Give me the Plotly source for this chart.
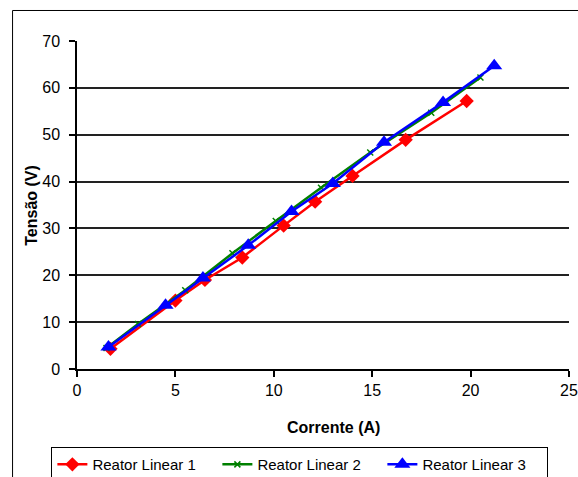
import plotly.graph_objects as go

x1 = [1.7, 5.0, 6.5, 8.4, 10.5, 12.1, 14.0, 16.7, 19.8]
y1 = [4.3, 14.6, 19.0, 23.8, 30.6, 35.7, 41.2, 48.9, 57.2]

x2 = [1.5, 3.1, 5.5, 7.9, 10.1, 12.4, 14.9, 18.0, 20.5]
y2 = [4.5, 9.6, 16.8, 24.7, 31.6, 38.7, 46.2, 54.7, 62.2]

x3 = [1.6, 4.5, 6.4, 8.7, 10.9, 13.0, 15.6, 18.6, 21.2]
y3 = [4.7, 13.6, 19.4, 26.4, 33.6, 39.6, 48.4, 56.9, 64.7]

names = ["Reator Linear 1", "Reator Linear 2", "Reator Linear 3"]
xticks = [0, 5, 10, 15, 20, 25]
yticks = [0, 10, 20, 30, 40, 50, 60, 70]

FONT = "Liberation Sans, Arial, sans-serif"

fig = go.Figure()
fig.add_trace(go.Scatter(x=x1, y=y1, name=names[0], mode="lines+markers",
                         line=dict(color="#FF0000", width=2.5),
                         marker=dict(symbol="diamond", size=11, color="#FF0000")))
fig.add_trace(go.Scatter(x=x2, y=y2, name=names[1], mode="lines+markers",
                         line=dict(color="#008000", width=2.5),
                         marker=dict(symbol="x-thin", size=6, color="#008000",
                                     line=dict(color="#008000", width=1.5))))
fig.add_trace(go.Scatter(x=x3, y=y3, name=names[2], mode="lines+markers",
                         line=dict(color="#0000FF", width=2.5),
                         marker=dict(symbol="triangle-up", size=14, color="#0000FF")))

fig.update_layout(
    width=578, height=477,
    margin=dict(l=76.5, r=8.5, t=40.5, b=108, autoexpand=False),
    paper_bgcolor="white", plot_bgcolor="white",
    font=dict(family=FONT, color="black", size=16),
    showlegend=True,
    legend=dict(orientation="h", xref="paper", x=0.453, xanchor="center",
                yref="container", y=0.026, yanchor="middle",
                bordercolor="black", borderwidth=1, bgcolor="white",
                font=dict(size=15, family=FONT),
                entrywidth=120, entrywidthmode="pixels"),
    xaxis=dict(range=[0, 25], tickvals=xticks, showgrid=False, zeroline=False,
               showline=True, linecolor="black", linewidth=1.5,
               ticks="outside", ticklen=6, tickcolor="black", tickwidth=1.5,
               tickfont=dict(size=16), fixedrange=True, automargin=False,
               ticklabeloverflow="allow"),
    yaxis=dict(range=[0, 70], tickvals=yticks, showgrid=True, gridcolor="#222222",
               gridwidth=1.5, zeroline=False,
               showline=True, linecolor="black", linewidth=1.5,
               ticks="outside", ticklen=6, tickcolor="black", tickwidth=1.5,
               tickfont=dict(size=16), ticklabelstandoff=6, fixedrange=True,
               automargin=False, ticklabeloverflow="allow"),
    annotations=[
        dict(text="<b>Corrente (A)</b>", xref="paper", yref="paper",
             x=0.522, y=-0.177, xanchor="center", yanchor="middle",
             showarrow=False, font=dict(size=16)),
        dict(text="<b>Tensão (V)</b>", xref="paper", yref="paper",
             x=-0.094, y=0.5, xanchor="center", yanchor="middle",
             textangle=-90, showarrow=False, font=dict(size=16)),
    ],
    shapes=[
        dict(type="rect", xref="paper", yref="paper",
             x0=-0.131, x1=1.2, y0=-0.6, y1=1.093,
             line=dict(color="black", width=1), layer="below"),
    ],
)

fig.write_html("out.html", config={"displayModeBar": False},
               post_script="document.body.style.margin='0';document.body.style.overflow='hidden';")
